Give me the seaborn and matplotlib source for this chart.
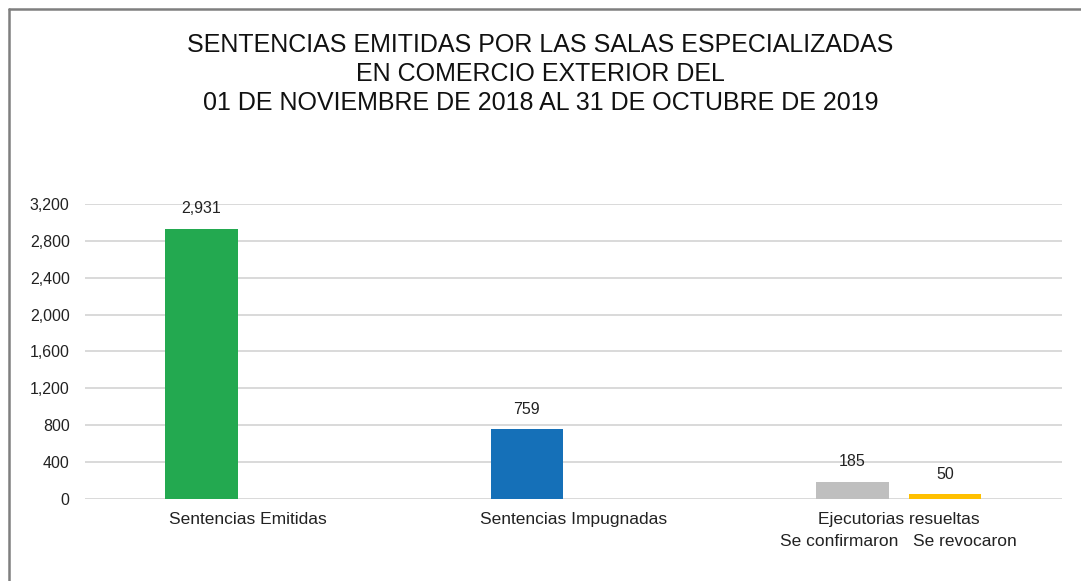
import matplotlib
matplotlib.use("Agg")
import matplotlib.pyplot as plt
from matplotlib.lines import Line2D
from matplotlib.ticker import FuncFormatter
import pandas as pd
import seaborn as sns

# ── DATA ──────────────────────────────────────────────────────────────────
categories = ["Sentencias Emitidas", "Sentencias Impugnadas",
              "Ejecutorias resueltas\nSe confirmaron   Se revocaron"]
first_slot = [2931, 759, 185]          # green / blue / gray
second_slot = [None, None, 50]         # only "Se revocaron"
bar_colors = ["#23A950", "#1570B8", "#BFBFBF", "#FFC000"]
title = ("SENTENCIAS EMITIDAS POR LAS SALAS ESPECIALIZADAS\n"
         "EN COMERCIO EXTERIOR DEL\n"
         "01 DE NOVIEMBRE DE 2018 AL 31 DE OCTUBRE DE 2019")

df = pd.DataFrame({
    "cat": categories * 2,
    "slot": ["a"] * 3 + ["b"] * 3,
    "value": first_slot + second_slot,
})

# ── PLOT ──────────────────────────────────────────────────────────────────
sns.set_theme(style="white")
plt.rcParams["font.family"] = ["Liberation Sans", "DejaVu Sans"]

fig = plt.figure(figsize=(10.81, 5.81), dpi=100)
ax = fig.add_axes([0.0786, 0.1411, 0.9034, 0.508])

sns.barplot(data=df, x="cat", y="value", hue="slot", ax=ax,
            width=0.57, gap=0.22, legend=False, palette=["#23A950", "#FFC000"])

# recolor bars individually and label them
drawn = [p for p in ax.patches if p.get_height() > 0]
drawn.sort(key=lambda p: p.get_x())
for p, c in zip(drawn, bar_colors):
    p.set_facecolor(c)
    p.set_edgecolor("none")
for cont in ax.containers:
    ax.bar_label(cont, labels=[f"{v:,.0f}" if v == v and v > 0 else ""
                               for v in cont.datavalues],
                 padding=9, fontsize=11.5, color="#222222")

ax.set_ylim(0, 3200)
ax.set_yticks(range(0, 3201, 400))
ax.yaxis.set_major_formatter(FuncFormatter(lambda v, _: f"{v:,.0f}"))
ax.grid(axis="y", color="#D9D9D9", linewidth=1.4)
ax.set_axisbelow(True)
for s in ax.spines.values():
    s.set_visible(False)
ax.set_xlabel("")
ax.set_ylabel("")
ax.tick_params(axis="y", length=0, pad=11, labelsize=11.5, labelcolor="#222222")
ax.tick_params(axis="x", length=0, pad=9, labelsize=12.5, labelcolor="#222222")
for lbl in ax.get_xticklabels():
    lbl.set_linespacing(1.6)
ax.set_xlim(-0.5, 2.5)

fig.text(0.5, 1 - 74 / 581, title, ha="center", va="center", fontsize=18,
         linespacing=1.26, color="#111111")

# outer frame (left and top edges visible)
fig.add_artist(Line2D([0.0083, 0.0083], [0, 0.985], transform=fig.transFigure,
                      color="#7F7F7F", linewidth=1.8))
fig.add_artist(Line2D([0.0083, 1.0], [0.985, 0.985], transform=fig.transFigure,
                      color="#7F7F7F", linewidth=1.8))

fig.savefig("out.png", dpi=100, facecolor="white")
